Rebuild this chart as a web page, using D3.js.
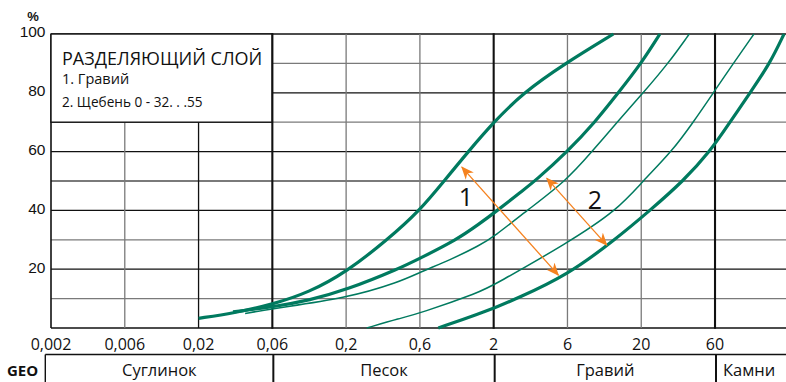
<!DOCTYPE html>
<html>
<head>
<meta charset="utf-8">
<script src="https://cdn.jsdelivr.net/npm/d3@7"></script>
<style>
  html, body { margin: 0; padding: 0; background: #fff; }
  svg { display: block; font-family: "Open Sans", "Noto Sans", sans-serif; }
</style>
</head>
<body>
<svg id="chart" width="786" height="382"></svg>
<script>
// ---------- DATA ----------
const sizeTicks  = [0.002, 0.006, 0.02, 0.06, 0.2, 0.6, 2, 6, 20, 60];
const sizeLabels = ["0,002", "0,006", "0,02", "0,06", "0,2", "0,6", "2", "6", "20", "60"];
const pctGrid    = [0, 10, 20, 30, 40, 50, 60, 70, 80, 90, 100];
const pctLabels  = [20, 40, 60, 80, 100];

// grading curves: [grain size mm, % passing]
const curveA = [[0.02,3.3],[0.034,5.1],[0.06,8],[0.11,12.2],[0.2,19],[0.37,30],[0.6,40],[0.89,50],[1.32,60],[2,70],[3.1,80],[5.8,90],[12.7,100]];
const curveB = [[0.0334,5.5],[0.06,7.1],[0.111,9.5],[0.2,12.9],[0.446,20.3],[0.6,23.7],[1.094,30],[1.6,35.6],[2,39],[3.1,46.9],[3.7,50],[6,60],[9.4,70],[13.75,80],[20,90],[26.4,100]];
const curveC = [[0.04,4.9],[0.06,6.6],[0.2,10.1],[0.446,15.7],[0.6,19],[0.98,23.1],[1.6,28.2],[2,31],[3.29,40],[5.87,50],[8.96,60],[13.46,70],[20.6,80],[29.9,90],[40.9,100]];
const curveD = [[0.272,0],[0.446,3.3],[0.6,5],[1.6,12.2],[2,14.6],[6,28.9],[13.46,40],[20.5,50],[31.5,60],[43.4,70],[58.5,80],[80.9,90],[113.3,100]];
const curveE = [[0.81,0],[1.6,5],[2,6.7],[2.82,10],[6,18],[13.03,30],[22.8,40],[37.4,50],[55.7,60],[76.6,70],[106.2,80],[147,90],[185,100]];
const thickCurves = [curveA, curveB, curveE];
const thinCurves  = [curveC, curveD];

// annotation arrows: [[size, pct], [size, pct]] and labels
const arrows = [[[1.19,54.7],[5.24,18]], [[4.41,50.9],[11.4,28.2]]];
const arrowLabels = [{t:"1", s:1.27, p:44.6}, {t:"2", s:9.4, p:43.5}];

// soil classes along the bottom
const soilNames  = ["Суглинок", "Песок", "Гравий", "Камни"];
const soilBounds = [0.06, 2, 60];

const legendTitle = "РАЗДЕЛЯЮЩИЙ СЛОЙ";
const legendLines = ["1. Гравий", "2. Щебень 0 - 32. . .55"];

// ---------- LAYOUT ----------
const W = 786, H = 382;
const plotLeft = 51, step = 73.78, plotTop = 34, plotBottom = 328;
const green = "#007a5f", orange = "#f5821f", gray = "#7a7a7a";

const domainExt = sizeTicks.concat([200]);
const x = d3.scaleLog().domain(domainExt).range(domainExt.map((d, i) => plotLeft + step * i));
const y = d3.scaleLinear().domain([0, 100]).range([plotBottom, plotTop]);

const svg = d3.select("#chart");
svg.append("rect").attr("width", W).attr("height", H).attr("fill", "#fff");

const strongX = new Set([0.06, 2, 60]);
const blackX = new Set([0.002, 0.02]);

// horizontal gridlines
const grid = svg.append("g");
grid.selectAll("line.h").data(pctGrid).join("line")
  .attr("x1", plotLeft).attr("x2", W)
  .attr("y1", d => y(d)).attr("y2", d => y(d))
  .attr("stroke", d => (d % 20 === 10) ? gray : "#111")
  .attr("stroke-width", d => d === 50 ? 2.2 : (d === 0 || d === 100 ? 1.6 : 1.3));

grid.selectAll("line.v").data(sizeTicks.filter(d => !strongX.has(d))).join("line")
  .attr("x1", d => x(d)).attr("x2", d => x(d))
  .attr("y1", plotTop).attr("y2", plotBottom)
  .attr("stroke", d => blackX.has(d) ? "#111" : gray)
  .attr("stroke-width", d => d === 0.002 ? 1.6 : 1.3);

// legend box (white, covers grid)
svg.append("rect")
  .attr("x", x(0.002)).attr("y", y(100))
  .attr("width", x(0.06) - x(0.002)).attr("height", y(70) - y(100))
  .attr("fill", "#fff").attr("stroke", "#111").attr("stroke-width", 1.4);

// strong verticals
svg.selectAll("line.sv").data(sizeTicks.filter(d => strongX.has(d))).join("line")
  .attr("x1", d => x(d)).attr("x2", d => x(d))
  .attr("y1", plotTop - 0.8).attr("y2", plotBottom + 0.8)
  .attr("stroke", "#111").attr("stroke-width", 2.1);

// legend text
svg.append("text").attr("x", 62).attr("y", 65.3)
  .attr("font-size", 18).attr("fill", "#111").text(legendTitle);
svg.selectAll("text.leg").data(legendLines).join("text")
  .attr("x", 62).attr("y", (d, i) => 83.5 + i * 23.8)
  .attr("font-size", (d, i) => i === 0 ? 14.5 : 13.6).attr("fill", "#111").text(d => d);

// curves
const line = d3.line().x(d => x(d[0])).y(d => y(d[1])).curve(d3.curveBasis);
svg.append("g").selectAll("path").data(thinCurves).join("path")
  .attr("d", line).attr("fill", "none").attr("stroke", green).attr("stroke-width", 1.5);
svg.append("g").selectAll("path").data(thickCurves).join("path")
  .attr("d", line).attr("fill", "none").attr("stroke", green).attr("stroke-width", 3.2)
  .attr("stroke-linecap", "butt");

// arrows
const defs = svg.append("defs");
defs.append("marker").attr("id", "ah").attr("viewBox", "0 0 12 10")
  .attr("refX", 11).attr("refY", 5).attr("markerWidth", 13).attr("markerHeight", 11)
  .attr("markerUnits", "userSpaceOnUse").attr("orient", "auto-start-reverse")
  .append("path").attr("d", "M0,0 L12,5 L0,10 L3.5,5 Z").attr("fill", orange);
svg.append("g").selectAll("line").data(arrows).join("line")
  .attr("x1", d => x(d[0][0])).attr("y1", d => y(d[0][1]))
  .attr("x2", d => x(d[1][0])).attr("y2", d => y(d[1][1]))
  .attr("stroke", orange).attr("stroke-width", 1.3)
  .attr("marker-start", "url(#ah)").attr("marker-end", "url(#ah)");
svg.selectAll("text.al").data(arrowLabels).join("text")
  .attr("x", d => x(d.s)).attr("y", d => y(d.p) + 9)
  .attr("text-anchor", "middle").attr("font-size", 25).attr("fill", "#111").text(d => d.t);

// axis labels
svg.selectAll("text.xl").data(sizeTicks).join("text")
  .attr("x", d => x(d)).attr("y", 349.5).attr("text-anchor", "middle")
  .attr("font-size", 16).attr("fill", "#111").text((d, i) => sizeLabels[i]);
svg.selectAll("text.yl").data(pctLabels).join("text")
  .attr("x", 45.5).attr("y", d => y(d) + 3.3).attr("text-anchor", "end")
  .attr("font-family", "'Liberation Sans', Arial, sans-serif")
  .attr("font-size", 15.5).attr("fill", "#111").text(d => d);
svg.append("text").attr("x", 33).attr("y", 20.5).attr("text-anchor", "middle")
  .attr("font-family", "'Liberation Sans', Arial, sans-serif")
  .attr("font-size", 13).attr("font-weight", "bold").attr("fill", "#111").text("%");

// soil classification band
const bandTop = 354.5, bandLeft = 45.3;
const edges = [bandLeft].concat(soilBounds.map(d => x(d) + 1), [W + 2]);
const band = svg.append("g");
band.append("line").attr("x1", bandLeft).attr("x2", W).attr("y1", bandTop).attr("y2", bandTop)
  .attr("stroke", "#111").attr("stroke-width", 1.6);
band.selectAll("line.e").data(edges.slice(0, 4)).join("line")
  .attr("x1", d => d).attr("x2", d => d).attr("y1", bandTop).attr("y2", H)
  .attr("stroke", "#111").attr("stroke-width", (d, i) => i === 0 ? 1.4 : 2);
band.selectAll("text").data(soilNames).join("text")
  .attr("x", (d, i) => i === 3 ? edges[3] + 7 : (edges[i] + edges[i + 1]) / 2)
  .attr("y", 375.5).attr("text-anchor", (d, i) => i === 3 ? "start" : "middle")
  .attr("font-size", 16.5).attr("fill", "#111").text(d => d);
svg.append("text").attr("x", 7).attr("y", 376).attr("font-size", 15)
  .attr("font-weight", "bold").attr("fill", "#111").text("GEO");
</script>
</body>
</html>
